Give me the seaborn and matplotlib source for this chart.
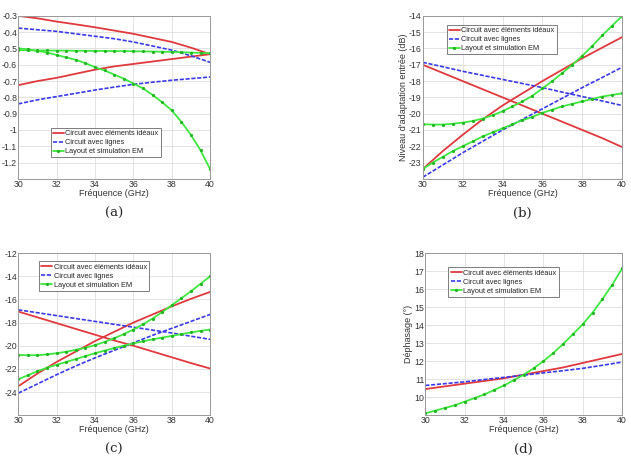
import numpy as np
import pandas as pd
import matplotlib
matplotlib.use("Agg")
import matplotlib.pyplot as plt
import seaborn as sns

freq = [30, 31, 32, 33, 34, 35, 36, 37, 38, 39, 40]
freq_em = [30, 30.5, 31, 31.5, 32, 32.5, 33, 33.5, 34, 34.5, 35,
           35.5, 36, 36.5, 37, 37.5, 38, 38.5, 39, 39.5, 40]

noms = ["Circuit avec éléments idéaux", "Circuit avec lignes", "Layout et simulation EM"]

# (a) pertes d'insertion
a_ideal_1 = [-0.30, -0.315, -0.335, -0.352, -0.37, -0.39, -0.41, -0.435, -0.46, -0.495, -0.535]
a_ideal_2 = [-0.725, -0.70, -0.68, -0.655, -0.63, -0.61, -0.595, -0.58, -0.565, -0.55, -0.535]
a_lignes_1 = [-0.375, -0.385, -0.395, -0.41, -0.425, -0.44, -0.46, -0.485, -0.51, -0.545, -0.585]
a_lignes_2 = [-0.84, -0.815, -0.795, -0.775, -0.755, -0.737, -0.72, -0.707, -0.695, -0.685, -0.675]
a_em_1 = [-0.51, -0.511, -0.512, -0.512, -0.513, -0.513, -0.514, -0.514, -0.515, -0.515, -0.516,
          -0.516, -0.517, -0.518, -0.519, -0.52, -0.521, -0.523, -0.525, -0.527, -0.53]
a_em_2 = [-0.50, -0.505, -0.515, -0.525, -0.54, -0.555, -0.57, -0.59, -0.615, -0.635, -0.66,
          -0.685, -0.715, -0.745, -0.785, -0.83, -0.88, -0.95, -1.03, -1.125, -1.24]

# (b) adaptation entrée
b_ideal_1 = [-17.0, -17.5, -18.0, -18.5, -19.0, -19.5, -20.0, -20.5, -21.0, -21.5, -22.05]
b_ideal_2 = [-23.4, -22.3, -21.3, -20.35, -19.5, -18.75, -18.0, -17.3, -16.6, -15.95, -15.3]
b_lignes_1 = [-16.85, -17.12, -17.4, -17.65, -17.9, -18.15, -18.4, -18.68, -18.95, -19.22, -19.5]
b_lignes_2 = [-23.9, -23.15, -22.4, -21.7, -21.0, -20.35, -19.7, -19.05, -18.4, -17.78, -17.15]
b_em_1 = [-20.65, -20.67, -20.67, -20.62, -20.55, -20.45, -20.3, -20.1, -19.85, -19.55, -19.25,
          -18.9, -18.45, -18.0, -17.5, -17.0, -16.45, -15.85, -15.2, -14.6, -14.0]
b_em_2 = [-23.4, -23.0, -22.65, -22.3, -22.0, -21.7, -21.4, -21.15, -20.9, -20.65, -20.4,
          -20.2, -19.95, -19.75, -19.55, -19.4, -19.25, -19.1, -18.95, -18.85, -18.75]

# (c) adaptation sortie
c_ideal_1 = [-17.05, -17.55, -18.05, -18.55, -19.05, -19.55, -20.0, -20.5, -21.0, -21.5, -21.97]
c_ideal_2 = [-23.5, -22.4, -21.4, -20.5, -19.6, -18.8, -18.0, -17.3, -16.6, -15.95, -15.35]
c_lignes_1 = [-16.9, -17.15, -17.4, -17.65, -17.9, -18.15, -18.4, -18.65, -18.9, -19.18, -19.45]
c_lignes_2 = [-24.1, -23.3, -22.5, -21.75, -21.05, -20.4, -19.75, -19.1, -18.5, -17.9, -17.3]
c_em_1 = [-20.8, -20.82, -20.82, -20.75, -20.65, -20.52, -20.35, -20.17, -19.95, -19.67, -19.35,
          -19.0, -18.6, -18.15, -17.65, -17.1, -16.5, -15.9, -15.3, -14.65, -14.0]
c_em_2 = [-22.9, -22.55, -22.2, -21.9, -21.65, -21.4, -21.15, -20.9, -20.65, -20.42, -20.2,
          -20.0, -19.8, -19.62, -19.45, -19.3, -19.15, -19.0, -18.85, -18.72, -18.6]

# (d) déphasage
d_ideal = [10.45, 10.6, 10.75, 10.9, 11.05, 11.25, 11.45, 11.65, 11.9, 12.15, 12.4]
d_lignes = [10.65, 10.75, 10.85, 10.98, 11.1, 11.22, 11.35, 11.47, 11.6, 11.77, 11.95]
d_em = [9.1, 9.25, 9.4, 9.55, 9.75, 9.95, 10.15, 10.4, 10.65, 10.95, 11.25,
        11.6, 12.0, 12.45, 12.95, 13.5, 14.05, 14.7, 15.45, 16.25, 17.15]

rouge = "#e0393e"
bleu = "#3a3ae8"
vert = "#3ee83e"

sns.set_style("whitegrid")
plt.rcParams["font.family"] = ["Liberation Sans", "DejaVu Sans"]

fig = plt.figure(figsize=(6.31, 4.67), dpi=100)


def panneau(rect, ideal, lignes, em, ylim, yticks, ylabel, leg_pos, lettre):
    ax = fig.add_axes(rect)
    for i, y in enumerate(ideal):
        sns.lineplot(x=freq, y=y, ax=ax, color=rouge, lw=1.3,
                     label=noms[0] if i == 0 else None)
    for i, y in enumerate(lignes):
        sns.lineplot(x=freq, y=y, ax=ax, color=bleu, lw=1.2,
                     label=noms[1] if i == 0 else None)
        ax.lines[-1].set_dashes((2.5, 1.0))
    for i, y in enumerate(em):
        sns.lineplot(x=freq_em, y=y, ax=ax, color=vert, lw=1.3, marker="o",
                     markersize=2.3, markeredgewidth=0, markerfacecolor="#22b522",
                     label=noms[2] if i == 0 else None)
    ax.set_xlim(30, 40)
    ax.set_ylim(*ylim)
    ax.set_xticks([30, 32, 34, 36, 38, 40])
    ax.set_yticks(yticks)
    labs = [("%g" % t) for t in yticks]
    labs[0] = ""
    ax.set_yticklabels(labs)
    ax.tick_params(labelsize=6.3, colors="#333333", pad=0.8, length=0)
    ax.grid(True, color="#dedede", lw=0.6)
    for s in ax.spines.values():
        s.set_color("#999999")
        s.set_linewidth(0.7)
    ax.set_xlabel("Fréquence (GHz)", fontsize=6.5, color="#333333", labelpad=0)
    ax.set_ylabel(ylabel, fontsize=6.5, color="#333333", labelpad=0.5)
    leg = ax.legend(loc="upper left", bbox_to_anchor=leg_pos, fontsize=5.3,
                    frameon=True, fancybox=False, borderpad=0.3, labelspacing=0.25,
                    handlelength=1.5, handletextpad=0.2, borderaxespad=0)
    leg.get_frame().set_edgecolor("#444444")
    leg.get_frame().set_linewidth(0.6)
    cx = rect[0] + rect[2] / 2
    fig.text(cx, rect[1] - 0.074, lettre, ha="center", va="center",
             fontsize=9.5, family="DejaVu Serif")
    return ax


panneau([0.029, 0.617, 0.304, 0.349], [a_ideal_1, a_ideal_2], [a_lignes_1, a_lignes_2],
        [a_em_1, a_em_2], (-1.3, -0.3), np.round(np.arange(-1.3, -0.25, 0.1), 1),
        "", (0.168, 0.313), "(a)")
panneau([0.670, 0.617, 0.316, 0.349], [b_ideal_1, b_ideal_2], [b_lignes_1, b_lignes_2],
        [b_em_1, b_em_2], (-24, -14), list(range(-24, -13)),
        "Niveau d'adaptation entrée (dB)", (0.12, 0.945), "(b)")
panneau([0.029, 0.111, 0.304, 0.347], [c_ideal_1, c_ideal_2], [c_lignes_1, c_lignes_2],
        [c_em_1, c_em_2], (-26, -12), list(range(-26, -11, 2)),
        "", (0.107, 0.95), "(c)")
panneau([0.674, 0.111, 0.312, 0.347], [d_ideal], [d_lignes], [d_em],
        (9, 18), list(range(9, 19)), "Déphasage (°)", (0.117, 0.913), "(d)")

fig.savefig("out.png", dpi=100)
